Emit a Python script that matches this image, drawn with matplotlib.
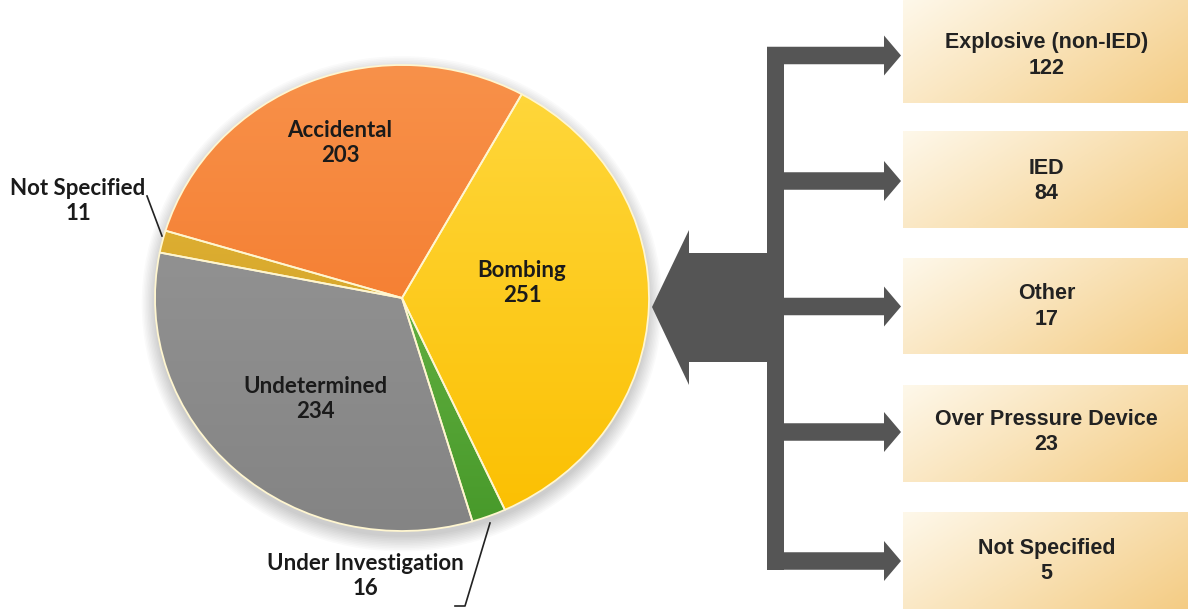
import matplotlib.pyplot as plt
import numpy as np
from matplotlib.colors import LinearSegmentedColormap
from matplotlib.patches import Polygon, Ellipse

# ================= data =================
pie_labels = ["Bombing", "Under Investigation", "Undetermined", "Not Specified", "Accidental"]
pie_values = [251, 16, 234, 11, 203]
# (top colour, bottom colour) per slice
pie_colors = [("#ffd83e", "#fbbf00"),
              ("#7cc455", "#47992a"),
              ("#9a9a9a", "#848484"),
              ("#e8bb3e", "#c8961a"),
              ("#f8914a", "#f2701e")]

sub_labels = ["Explosive (non-IED)", "IED", "Other", "Over Pressure Device", "Not Specified"]
sub_values = [122, 84, 17, 23, 5]
# ========================================

W, H = 1188, 609
ARROW_GRAY = "#555555"

# label placement (pixel coords, y from top)
label_pos = {
    "Bombing": (522, 283),
    "Under Investigation": (365, 576),
    "Undetermined": (315, 399),
    "Not Specified": (78, 201),
    "Accidental": (340, 143),
}
leaders = {
    "Not Specified": [(147, 196), (162, 236)],
    "Under Investigation": [(490, 523), (465, 606), (455, 606)],
}

box_left = 903
box_rows = [(0, 103), (131, 228), (258, 354), (385, 482), (512, 609)]
branch_y = [55.5, 181, 306.5, 432, 561]


def draw():
    fig = plt.figure(figsize=(W / 100, H / 100), dpi=100)

    # ---- pie (slightly wider than tall, like the source) ----
    cx, cy, rx, ry = 402, 298, 247, 233
    ax = fig.add_axes([(cx - 1.25 * rx) / W, (H - cy - 1.25 * ry) / H,
                       2.5 * rx / W, 2.5 * ry / H])
    wedges, _ = ax.pie(pie_values, startangle=61, counterclock=False,
                       colors=[c[1] for c in pie_colors],
                       wedgeprops=dict(edgecolor="#fff6d0", linewidth=1.3))
    ax.set_aspect("auto")
    ax.set_xlim(-1.25, 1.25)
    ax.set_ylim(-1.25, 1.25)
    ax.axis("off")

    # soft shadow behind the pie
    for i in range(10):
        ax.add_patch(Ellipse((0.0, -0.025), 2.0 + 0.012 * i, 2.0 + 0.014 * i,
                             color="black", alpha=0.018, zorder=0, lw=0))

    # gradient fill clipped to each slice
    grad = np.linspace(1, 0, 256).reshape(-1, 1)
    for w, (top, bot) in zip(wedges, pie_colors):
        w.set_facecolor("none")
        cmap = LinearSegmentedColormap.from_list("g", [bot, top])
        im = ax.imshow(grad, cmap=cmap, extent=(-1, 1, -1, 1), origin="upper",
                       aspect="auto", zorder=1)
        im.set_clip_path(w)
        w.set_zorder(2)

    # ---- overlay in pixel coordinates ----
    ov = fig.add_axes([0, 0, 1, 1])
    ov.set_xlim(0, W)
    ov.set_ylim(H, 0)
    ov.axis("off")
    ov.patch.set_alpha(0)

    for lab, val in zip(pie_labels, pie_values):
        x, y = label_pos[lab]
        ov.text(x, y, f"{lab}\n{val}", ha="center", va="center",
                fontsize=16, fontweight="bold", family=["Lato", "DejaVu Sans"],
                color="#1a1a1a", linespacing=1.2)
    for pts in leaders.values():
        xs, ys = zip(*pts)
        ov.plot(xs, ys, color="#222222", lw=1.2)

    # boxes with a cream-to-tan gradient
    box_grad = np.add.outer(np.linspace(0, 0.35, 50), np.linspace(0, 0.65, 200))
    box_cmap = LinearSegmentedColormap.from_list("b", ["#fef8ea", "#f4cc84"])
    for (y0, y1), lab, val, by in zip(box_rows, sub_labels, sub_values, branch_y):
        ov.imshow(box_grad, cmap=box_cmap, vmin=0, vmax=1,
                  extent=(box_left, W, y1, y0), aspect="auto", zorder=1)
        ov.text((box_left + W) / 2 + 1, by, f"{lab}\n{val}", ha="center", va="center",
                fontsize=15.5, fontweight="bold", family="Liberation Sans",
                color="#222222", linespacing=1.3, zorder=3)

    # bracket with arrows to the boxes
    bar_x0, bar_x1 = 767, 784
    th = 17.5
    ov.add_patch(Polygon([(bar_x0, branch_y[0] - th / 2), (bar_x1, branch_y[0] - th / 2),
                          (bar_x1, branch_y[-1] + th / 2), (bar_x0, branch_y[-1] + th / 2)],
                         closed=True, color=ARROW_GRAY, lw=0, zorder=2))
    for by in branch_y:
        ov.add_patch(Polygon([(bar_x0, by - th / 2), (884, by - th / 2), (884, by - 20),
                              (901, by), (884, by + 20), (884, by + th / 2),
                              (bar_x0, by + th / 2)],
                             closed=True, color=ARROW_GRAY, lw=0, zorder=2))

    # big arrow pointing at the Bombing slice
    ov.add_patch(Polygon([(652, 307), (689, 230), (689, 253), (bar_x0, 253),
                          (bar_x0, 362), (689, 362), (689, 385)],
                         closed=True, color=ARROW_GRAY, lw=0, zorder=2))

    fig.savefig("out.png", dpi=100)


if __name__ == "__main__":
    draw()
